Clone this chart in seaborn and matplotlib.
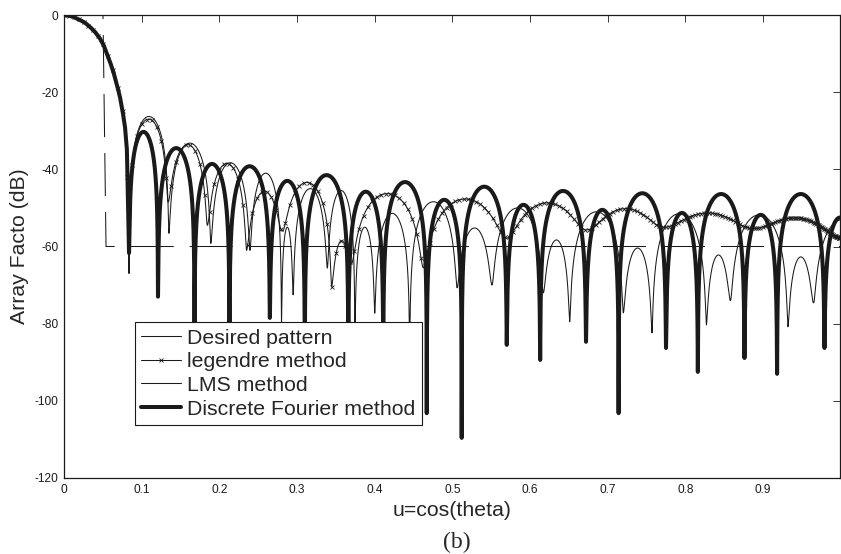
import numpy as np
import matplotlib
matplotlib.use('Agg')
import matplotlib.pyplot as plt
import seaborn as sns
from matplotlib.lines import Line2D

# main lobe, common to the three synthesis methods
main_u = [0.0, 0.010, 0.0206, 0.027, 0.033, 0.040, 0.046, 0.051, 0.055,
          0.059, 0.0635, 0.068, 0.072, 0.0755, 0.0785, 0.081]
main_db = [0.0, -0.3, -1.3, -2.0, -3.0, -4.4, -6.0, -7.8, -9.9,
           -12.0, -14.7, -18.0, -21.2, -25.0, -28.9, -35.0]

# desired (mask) pattern
desired_u = [0.0, 0.0502, 0.0541, 0.999]
desired_db = [0.0, 0.0, -60.0, -60.0]

# discrete Fourier method: side lobe nulls and peak levels
dft_null_u = [0.0837, 0.121, 0.168, 0.213, 0.265, 0.310, 0.366, 0.411, 0.467, 0.512,
              0.570, 0.613, 0.672, 0.714, 0.775, 0.816, 0.876, 0.918, 0.979, 1.019]
dft_null_db = [-61.7, -73.0, -88.0, -88.0, -78.5, -88.0, -88.0, -88.0, -103.2, -109.6,
               -85.5, -89.4, -84.7, -103.2, -86.3, -92.5, -88.9, -93.0, -86.3, -90.0]
dft_peak_db = [-30.3, -34.5, -38.6, -39.2, -43.0, -41.5, -45.8, -43.3, -47.9, -44.5,
               -49.2, -45.6, -50.5, -46.2, -51.3, -46.4, -51.8, -46.4, -52.5]

# legendre method
leg_null_u = [0.0837, 0.134, 0.1845, 0.235, 0.281, 0.3445, 0.370, 0.4625,
              0.570, 0.673, 0.772, 0.886, 1.0]
leg_null_db = [-67.0, -48.5, -54.5, -61.0, -56.0, -70.5, -64.5, -65.5,
               -57.8, -55.7, -55.0, -55.3, -57.8]
leg_peak_db = [-27.0, -33.6, -38.5, -45.7, -43.4, -58.5, -46.3, -47.7,
               -48.7, -50.2, -51.3, -52.6]

# LMS method
lms_null_u = [0.0837, 0.135, 0.189, 0.2394, 0.280, 0.295, 0.339, 0.3745, 0.400, 0.445,
              0.506, 0.551, 0.617, 0.651, 0.720, 0.757, 0.827, 0.858, 0.932, 0.965, 1.04]
lms_null_db = [-62.0, -56.6, -59.2, -61.0, -80.0, -72.5, -65.6, -88.0, -77.3, -88.0,
               -70.7, -70.0, -72.0, -79.5, -77.2, -82.4, -80.3, -74.0, -80.8, -74.6, -80.0]
lms_peak_db = [-26.3, -33.2, -38.3, -41.0, -55.0, -45.0, -45.5, -55.0, -51.4, -48.4,
               -55.2, -50.0, -58.3, -51.0, -60.4, -51.5, -62.2, -51.8, -62.7, -53.0]


def pattern(u, null_u, null_db, peak_db):
    # main lobe from the read points, then one lobe between each pair of nulls
    u = np.asarray(u, dtype=float)
    out = np.interp(u, main_u + [null_u[0]], main_db + [null_db[0]])
    for i in range(len(null_u) - 1):
        a, b = null_u[i], null_u[i + 1]
        m = (u >= a) & (u <= b)
        t = (u[m] - a) / (b - a)
        fa, fb = 10 ** (null_db[i] / 20), 10 ** (null_db[i + 1] / 20)
        floor = fa + (fb - fa) * t
        p = 10 ** (peak_db[i] / 20)
        amp = np.sqrt(max(p ** 2 - ((fa + fb) / 2) ** 2, 0.0))
        out[m] = 20 * np.log10(np.sqrt((amp * np.sin(np.pi * t)) ** 2 + floor ** 2))
    return out


def grid(null_u):
    g = np.linspace(0, 0.999, 6000)
    return np.union1d(g, [n for n in null_u if n <= 0.999])


sns.set_theme(style='white')
plt.rcParams['font.family'] = ['Liberation Sans', 'DejaVu Sans']
plt.rcParams['axes.unicode_minus'] = False

fig = plt.figure(figsize=(8.41, 5.54), dpi=100)
ax = fig.add_axes([64 / 841, 1 - 478 / 554, 776 / 841, 463 / 554])

thin = 0.75
thick = 2.9

# desired pattern (long dashes)
sns.lineplot(x=desired_u, y=desired_db, ax=ax, color='k', lw=thin,
             estimator=None, sort=False, dashes=False, zorder=2)
ax.lines[-1].set_linestyle((0, (31 / thin, 11.5 / thin)))

# LMS
ul = grid(lms_null_u)
sns.lineplot(x=ul, y=pattern(ul, lms_null_u, lms_null_db, lms_peak_db), ax=ax,
             color='k', lw=thin, estimator=None, sort=False, zorder=3)

# legendre, markers on the angle samples u = cos(theta)
ug = grid(leg_null_u)
sns.lineplot(x=ug, y=pattern(ug, leg_null_u, leg_null_db, leg_peak_db), ax=ax,
             color='k', lw=thin, estimator=None, sort=False, zorder=3)
theta = np.arange(0, np.pi / 2 + 1e-9, np.pi / 500)
um = np.cos(theta)
um = um[um <= 0.999]
ax.plot(um, pattern(um, leg_null_u, leg_null_db, leg_peak_db), ls='none', marker='x',
        ms=3.2, mew=0.6, color='k', zorder=3)

# discrete Fourier
ud = grid(dft_null_u)
sns.lineplot(x=ud, y=pattern(ud, dft_null_u, dft_null_db, dft_peak_db), ax=ax,
             color='k', lw=thick, estimator=None, sort=False, zorder=4)

ax.set_xlim(0, 0.999)
ax.set_ylim(-120, 0)
ax.set_xticks(np.arange(0, 0.95, 0.1))
ax.set_xticklabels(['0', '0.1', '0.2', '0.3', '0.4', '0.5', '0.6', '0.7', '0.8', '0.9'])
ax.set_yticks(range(-120, 1, 20))
ax.tick_params(direction='in', length=5, width=0.6, top=True, right=True,
               labelsize=8.6, colors='k', pad=4)
for s in ax.spines.values():
    s.set_color('k')
    s.set_linewidth(0.9)

ax.set_xlabel('u=cos(theta)', fontsize=15.3, labelpad=4)
ax.set_ylabel('Array Facto (dB)', fontsize=15.3, labelpad=4)
fig.text(457 / 841, 1 - 542 / 554, '(b)', family='Liberation Serif', fontsize=17,
         ha='center', va='center')

handles = [
    Line2D([], [], color='k', lw=thin),
    Line2D([], [], color='k', lw=thin, marker='x', ms=3.2, mew=0.6, markevery=[1]),
    Line2D([], [], color='k', lw=thin),
    Line2D([], [], color='k', lw=thick),
]
labels = ['Desired pattern', 'legendre method', 'LMS method', 'Discrete Fourier method']
leg = ax.legend(handles, labels, loc='lower left', bbox_to_anchor=(0.0915, 0.1145),
                borderaxespad=0, fontsize=15.3, handlelength=1.85, handletextpad=0.3,
                labelspacing=0.22, borderpad=0.3, fancybox=False, framealpha=1,
                edgecolor='k')
leg.get_frame().set_linewidth(0.8)
leg.set_zorder(10)

fig.savefig('out.png', dpi=100)
